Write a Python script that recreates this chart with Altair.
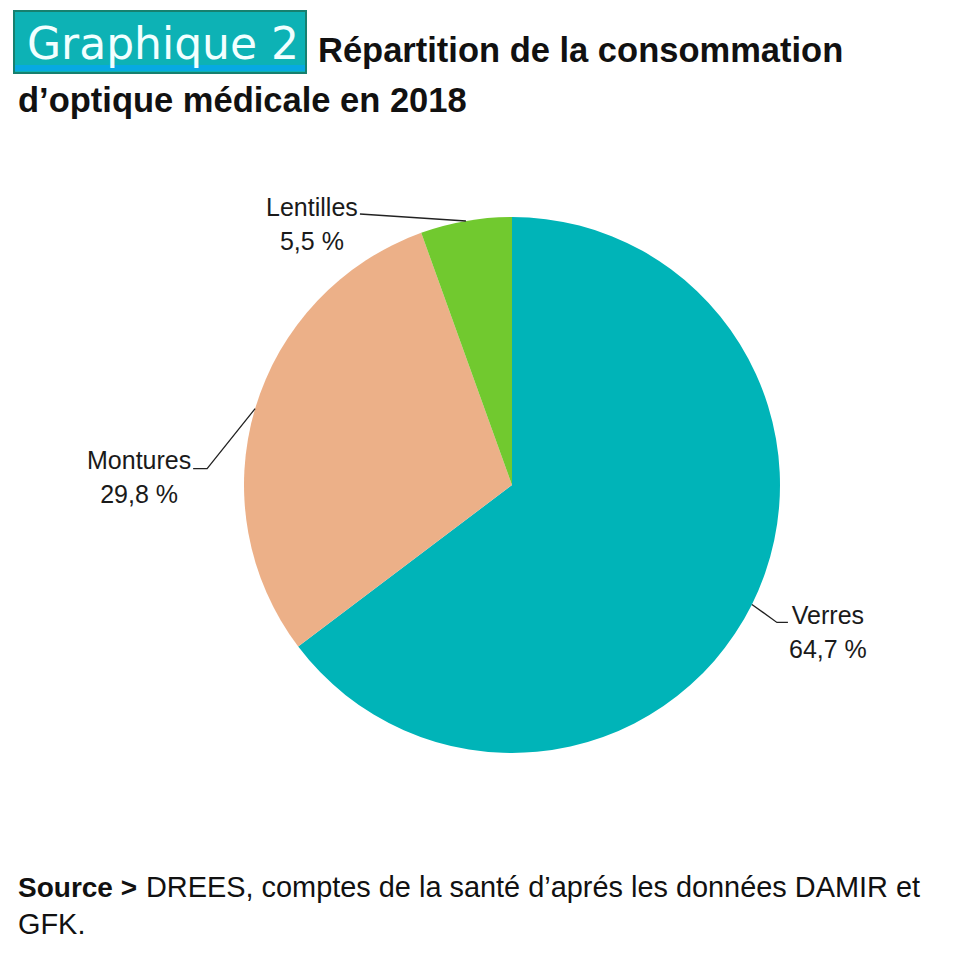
import math
import altair as alt
import pandas as pd

# ---------------- data ----------------
categories = ["Verres", "Montures", "Lentilles"]
values = [64.7, 29.8, 5.5]
value_labels = ["64,7 %", "29,8 %", "5,5 %"]
colors = ["#00B4B8", "#ECB088", "#71C92F"]

title_tag = "Graphique 2"
title_line1 = "Répartition de la consommation"
title_line2 = "d’optique médicale en 2018"
source_bold = "Source >"
source_line1 = "DREES, comptes de la santé d’aprés les données DAMIR et"
source_line2 = "GFK."

# ---------------- layout / style ----------------
W = H = 944
CX, CY, R = 504, 477, 268
FONT = "Liberation Sans Narrow, Arial Narrow, Liberation Sans, Arial, sans-serif"
LABEL_SIZE = 25
LINE_GAP = 34

# label layout offsets relative to each slice's outer edge point (mid angle)
label_offsets = {
    "Verres": dict(lab=(76, 20), elbow=(25, 18), end=(36, 18)),
    "Montures": dict(lab=(-116, 60), elbow=(-48, 60), end=(-62, 60)),
    "Lentilles": dict(lab=(-154, -5), elbow=(-106, -7), end=(-106, -7)),
}

total = sum(values)
pie_rows, label_rows, line_rows = [], [], []
cum = 0.0
for i, (c, v, vl) in enumerate(zip(categories, values, value_labels)):
    mid = (cum + v / 2) / total * 2 * math.pi
    cum += v
    ex = CX + R * math.sin(mid)
    ey = CY - R * math.cos(mid)
    off = label_offsets[c]
    pie_rows.append({"category": c, "value": v, "idx": i})
    label_rows.append({"category": c, "pct": vl,
                       "lx": ex + off["lab"][0], "ly": ey + off["lab"][1],
                       "ly2": ey + off["lab"][1] + LINE_GAP})
    pts = [(ex, ey), (ex + off["elbow"][0], ey + off["elbow"][1]),
           (ex + off["end"][0], ey + off["end"][1])]
    for s, (px, py) in enumerate(pts):
        line_rows.append({"category": c, "step": s, "px": px, "py": py})

pie_df = pd.DataFrame(pie_rows)
label_df = pd.DataFrame(label_rows)
line_df = pd.DataFrame(line_rows)

xs = alt.Scale(domain=[0, W], nice=False, zero=False)
ys = alt.Scale(domain=[0, H], nice=False, zero=False, reverse=True)

pie = alt.Chart(pie_df).mark_arc(radius=R).encode(
    theta=alt.Theta("value:Q", stack=True),
    color=alt.Color("category:N", scale=alt.Scale(domain=categories, range=colors), legend=None),
    order=alt.Order("idx:Q"),
    x=alt.value(CX),
    y=alt.value(CY),
)

leaders = alt.Chart(line_df).mark_line(color="#222222", strokeWidth=1.3).encode(
    x=alt.X("px:Q", scale=xs, axis=None),
    y=alt.Y("py:Q", scale=ys, axis=None),
    detail="category:N",
    order="step:Q",
)

names = alt.Chart(label_df).mark_text(font=FONT, fontSize=LABEL_SIZE, align="center",
                                      baseline="alphabetic", color="#1a1a1a").encode(
    x=alt.X("lx:Q", scale=xs, axis=None),
    y=alt.Y("ly:Q", scale=ys, axis=None),
    text="category:N",
)
pcts = alt.Chart(label_df).mark_text(font=FONT, fontSize=LABEL_SIZE, align="center",
                                     baseline="alphabetic", color="#1a1a1a").encode(
    x=alt.X("lx:Q", scale=xs, axis=None),
    y=alt.Y("ly2:Q", scale=ys, axis=None),
    text="pct:N",
)

one = pd.DataFrame({"k": [0]})

tag_box = alt.Chart(one).mark_rect(color="#0DB2B5", stroke="#17806f", strokeWidth=2).encode(
    x=alt.value(6), x2=alt.value(298), y=alt.value(3), y2=alt.value(65))
tag_strip = alt.Chart(one).mark_rect(color="#07A9E2").encode(
    x=alt.value(7), x2=alt.value(297), y=alt.value(57), y2=alt.value(63))
tag_text = alt.Chart(pd.DataFrame({"t": [title_tag]})).mark_text(
    font="DejaVu Sans", fontSize=44, color="#F2FFFF", align="left", baseline="alphabetic").encode(
    text="t:N", x=alt.value(19), y=alt.value(51))

t1 = alt.Chart(pd.DataFrame({"t": [title_line1]})).mark_text(
    font=FONT, fontSize=34.5, fontWeight="bold", color="#111111", align="left", baseline="alphabetic").encode(
    text="t:N", x=alt.value(310), y=alt.value(54))
t2 = alt.Chart(pd.DataFrame({"t": [title_line2]})).mark_text(
    font=FONT, fontSize=34.5, fontWeight="bold", color="#111111", align="left", baseline="alphabetic").encode(
    text="t:N", x=alt.value(10), y=alt.value(104))

s0 = alt.Chart(pd.DataFrame({"t": [source_bold]})).mark_text(
    font=FONT, fontSize=28, fontWeight="bold", color="#111111", align="left", baseline="alphabetic").encode(
    text="t:N", x=alt.value(10), y=alt.value(889))
s1 = alt.Chart(pd.DataFrame({"t": [source_line1]})).mark_text(
    font=FONT, fontSize=28.9, color="#111111", align="left", baseline="alphabetic").encode(
    text="t:N", x=alt.value(138), y=alt.value(889))
s2 = alt.Chart(pd.DataFrame({"t": [source_line2]})).mark_text(
    font=FONT, fontSize=28.9, color="#111111", align="left", baseline="alphabetic").encode(
    text="t:N", x=alt.value(10), y=alt.value(926))

chart = alt.layer(pie, leaders, names, pcts, tag_box, tag_strip, tag_text, t1, t2, s0, s1, s2).properties(
    width=W, height=H, autosize="none", padding=0, background="white"
).configure_view(stroke=None)

chart.save("out.html", embed_options={"renderer": "svg", "actions": False})
